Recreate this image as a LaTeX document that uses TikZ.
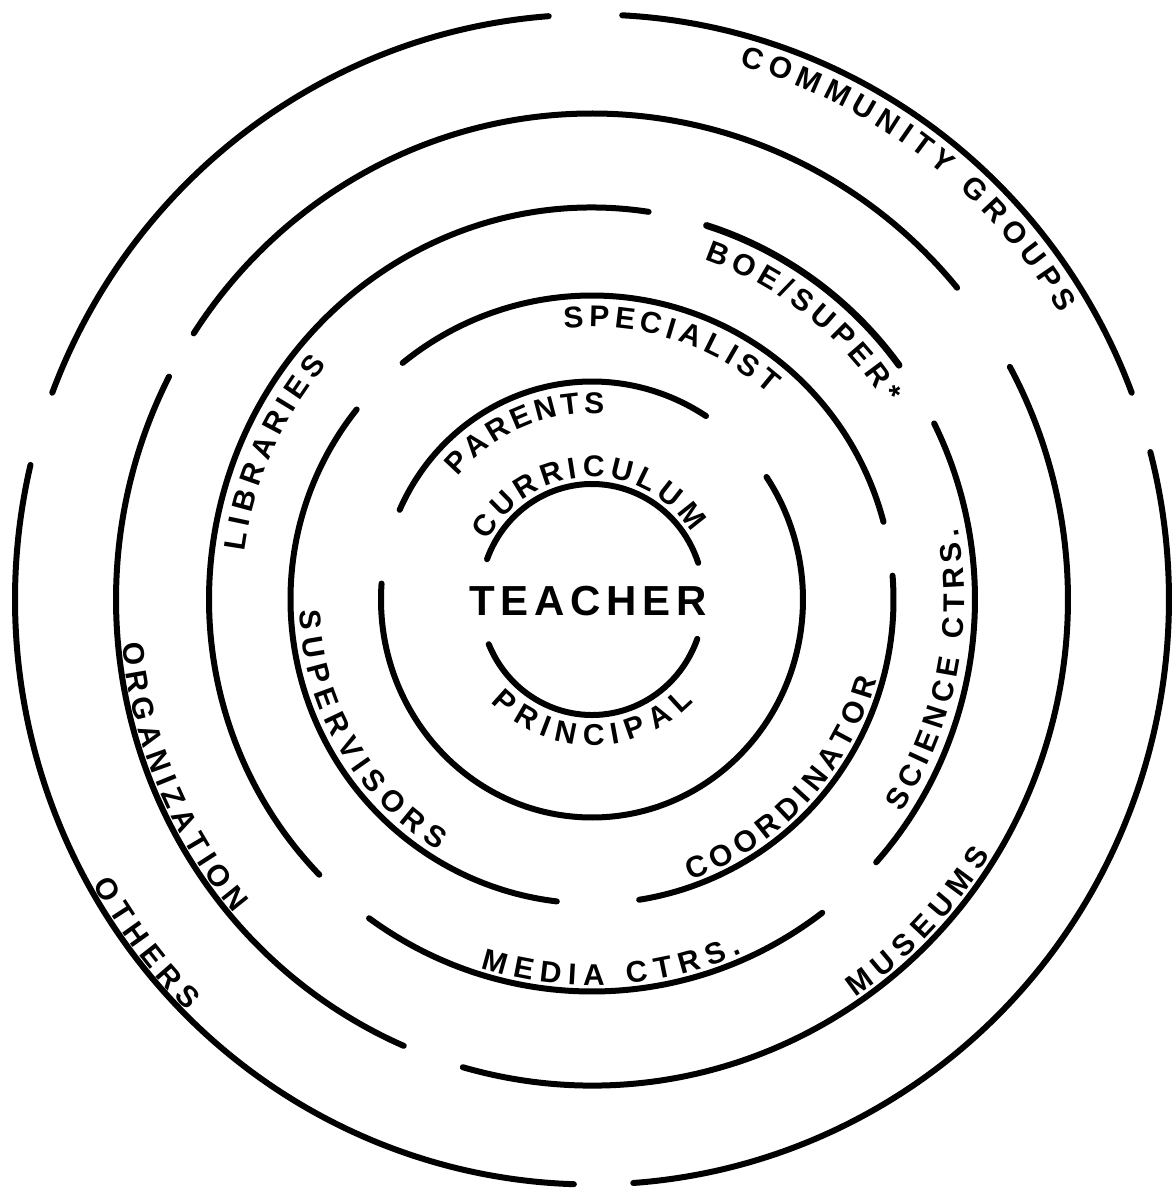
\documentclass[tikz,border=0pt]{standalone}
\usepackage{fontspec}
\setmainfont{Liberation Sans}
\newcommand\ringarc[4]{\draw[ring] (#3:#1 and #2) arc[start angle=#3,end angle=#4,x radius=#1,y radius=#2];}
\newcommand\fsz{30}
% #1 name, #2 rx, #3 ry, #4 start angle, #5 end angle, #6 list char/width(1/1000 em)
\newcommand\arctext[6]{%
  \gdef\atTW{0}\gdef\atN{0}%
  \foreach \atC/\atW in {#6}{\pgfmathsetmacro\atTmp{\atTW+\atW/1000}\xdef\atTW{\atTmp}\pgfmathtruncatemacro\atTmpn{\atN+1}\xdef\atN{\atTmpn}}%
  \pgfmathsetmacro\atR{(#2+#3)/2}%
  \pgfmathsetmacro\atDir{sign(#5-#4)}%
  \pgfmathsetmacro\atL{abs(#5-#4)*pi/180*\atR}%
  \pgfmathsetmacro\atG{(\atL-\atTW*\fsz)/(\atN-1)}%
  \gdef\atS{0}%
  \foreach \atC/\atW [count=\atI] in {#6}{%
    \pgfmathsetmacro\atSc{\atS+\atW/1000*\fsz/2}%
    \pgfmathsetmacro\atT{#4+\atDir*\atSc/\atR*180/pi}%
    \pgfmathsetmacro\atRot{atan2(\atDir*#3*cos(\atT),-\atDir*#2*sin(\atT))}%
    \node[lbl,rotate=\atRot] (#1\atI) at (\atT:#2 and #3) {\atC};%
    \pgfmathsetmacro\atTmp{\atS+\atW/1000*\fsz+\atG}\xdef\atS{\atTmp}%
  }%
}
\begin{document}
\begin{tikzpicture}[x=0.5pt,y=0.5pt,
  ring/.style={line width=3pt,line cap=round},
  lbl/.style={anchor=base,inner sep=0pt,outer sep=0pt,font=\bfseries\fontsize{15}{18}\selectfont}]
\useasboundingbox (-592,-589.5) rectangle (584,599.5);
% ring 1
\ringarc{112}{115.5}{18.5}{159.6}
\ringarc{112}{115.5}{202.8}{340.1}
% ring 2
\ringarc{211}{218}{57.3}{155.7}
\ringarc{211}{218}{175.8}{394.2}
% ring 3
\ringarc{301.5}{304}{14.8}{128.9}
\ringarc{301.5}{304}{-81}{4.5}
\ringarc{301.5}{304}{141.3}{263.3}
% ring 4
\ringarc{383}{392}{81.5}{224.6}
\draw[ring,line width=3.4pt] (36.7:383 and 392) arc[start angle=36.7,end angle=72.6,x radius=383,y radius=392];
\ringarc{383}{392}{-42.1}{26.7}
\ringarc{383}{392}{234.4}{306.95}
% ring 5
\ringarc{476}{486}{39.9}{146.8}
\ringarc{476}{486}{-105.75}{28.6}
\ringarc{476}{486}{152.7}{246.7}
% ring 6
\ringarc{577}{585}{94.3}{159.3}
\ringarc{577}{585}{20.7}{87.0}
\ringarc{577}{585}{-85.9}{14.6}
\ringarc{577}{585}{166.7}{268.2}
% labels
\node (teacher) at (-4,-1.5) {\bfseries\fontsize{21}{25}\selectfont T\kern2.9pt E\kern2.9pt A\kern2.9pt C\kern2.9pt H\kern2.9pt E\kern2.9pt R};
\arctext{cur}{119}{122.5}{151.4}{33.4}{C/722,U/722,R/722,R/722,I/278,C/722,U/722,L/611,U/722,M/833}
\arctext{pri}{142.5}{146}{224.8}{315.4}{P/667,R/722,I/278,N/722,C/722,I/278,P/667,A/722,L/611}
\arctext{par}{179}{186}{138.8}{86.2}{P/667,A/722,R/722,E/667,N/722,T/611,S/667}
\arctext{spe}{270}{272.5}{95.9}{48.9}{S/667,P/667,E/667,C/722,I/278,A/722,L/611,I/278,S/667,T/611}
\arctext{boe}{350}{359}{71.2}{32.9}{B/722,O/778,E/667,{/}/278,S/667,U/722,P/667,E/667,R/722,*/389}
\arctext{com}{546.5}{554.5}{74.3}{31.0}{C/722,O/778,M/833,M/833,U/722,N/722,I/278,T/611,Y/667,{}/278,G/778,R/722,O/778,U/722,P/667,S/667}
\arctext{lib}{350.5}{359.5}{172.3}{139.2}{L/611,I/278,B/722,R/722,A/722,R/722,I/278,E/667,S/667}
\arctext{sup}{293}{295.5}{182.2}{238.3}{S/667,U/722,P/667,E/667,R/722,V/667,I/278,S/667,O/778,R/722,S/667}
\arctext{org}{471.5}{481.5}{185.2}{220.7}{O/778,R/722,G/778,A/722,N/722,I/278,Z/611,A/722,T/611,I/278,O/778,N/722}
\arctext{oth}{573}{581}{209.4}{225.1}{O/778,T/611,H/722,E/667,R/722,S/667}
\arctext{coo}{295.5}{298}{-70.5}{-15.7}{C/722,O/778,O/778,R/722,D/722,I/278,N/722,A/722,T/611,O/778,R/722}
\arctext{sci}{372.5}{381.5}{-33.9}{10.8}{S/667,C/722,I/278,E/667,N/722,C/722,E/667,{}/278,C/722,T/611,R/722,S/667,./278}
\arctext{med}{377}{386}{252.9}{293.5}{M/833,E/667,D/722,I/278,A/722,{}/278,C/722,T/611,R/722,S/667,./278}
\arctext{mus}{470.5}{480.5}{-55.9}{-32.1}{M/833,U/722,S/667,E/667,U/722,M/833,S/667}
\end{tikzpicture}
\end{document}
